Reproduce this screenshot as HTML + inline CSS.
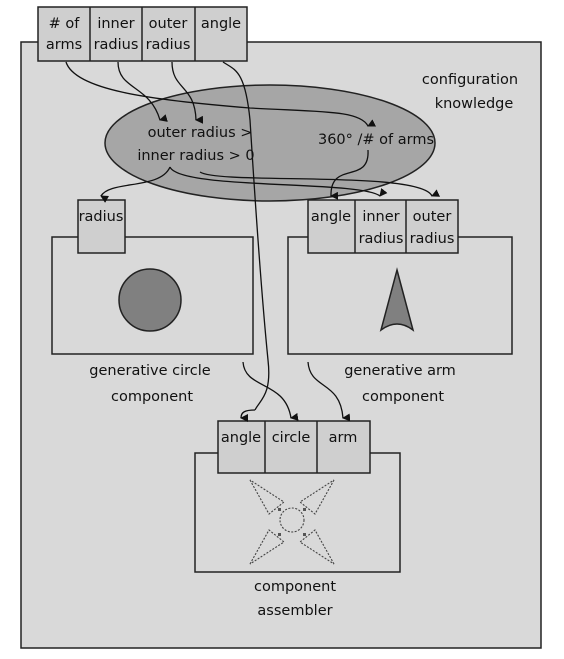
<!DOCTYPE html>
<html><head><meta charset="utf-8"><style>
body{margin:0;background:#fff;}
svg{display:block;font-family:"DejaVu Sans","Liberation Sans",sans-serif;font-size:14.5px;}
text{fill:#111;text-anchor:middle;}
</style></head><body>
<svg width="564" height="659" viewBox="0 0 564 659">
<defs><marker id="ah" markerWidth="8" markerHeight="8" refX="4" refY="7" orient="auto-start-reverse" markerUnits="userSpaceOnUse" viewBox="0 0 8 8"><path d="M0,0 L8,0 L4,8 Z" fill="#111"/></marker></defs>
<rect x="21" y="42" width="520" height="606" fill="#d9d9d9" stroke="#222" stroke-width="1.5"/>
<g>
<rect x="38" y="7" width="209" height="54" fill="#cfcfcf" stroke="#222" stroke-width="1.5"/>
<line x1="90" y1="7" x2="90" y2="61" stroke="#222" stroke-width="1.5"/>
<line x1="142" y1="7" x2="142" y2="61" stroke="#222" stroke-width="1.5"/>
<line x1="195" y1="7" x2="195" y2="61" stroke="#222" stroke-width="1.5"/>
<text x="64" y="28">#&#160;of</text><text x="64" y="49">arms</text>
<text x="116" y="28">inner</text><text x="116" y="49">radius</text>
<text x="168" y="28">outer</text><text x="168" y="49">radius</text>
<text x="221" y="28">angle</text>
</g>
<text x="470" y="84">configuration</text>
<text x="474" y="108">knowledge</text>
<ellipse cx="270" cy="143" rx="165" ry="58" fill="#a6a6a6" stroke="#222" stroke-width="1.5"/>
<text x="200" y="137">outer radius &gt;</text>
<text x="196" y="160">inner radius &gt; 0</text>
<text x="376" y="144">360° /# of arms</text>
<g>
<rect x="52" y="237" width="201" height="117" fill="#d9d9d9" stroke="#222" stroke-width="1.5"/>
<rect x="78" y="200" width="47" height="53" fill="#cfcfcf" stroke="#222" stroke-width="1.5"/>
<text x="101" y="221">radius</text>
<circle cx="150" cy="300" r="31" fill="#808080" stroke="#222" stroke-width="1.5"/>
<text x="150" y="375">generative circle</text><text x="152" y="401">component</text>
</g>
<g>
<rect x="288" y="237" width="224" height="117" fill="#d9d9d9" stroke="#222" stroke-width="1.5"/>
<rect x="308" y="200" width="150" height="53" fill="#cfcfcf" stroke="#222" stroke-width="1.5"/>
<line x1="355" y1="200" x2="355" y2="253" stroke="#222" stroke-width="1.5"/>
<line x1="406" y1="200" x2="406" y2="253" stroke="#222" stroke-width="1.5"/>
<text x="331" y="221">angle</text>
<text x="381" y="221">inner</text><text x="381" y="243">radius</text>
<text x="432" y="221">outer</text><text x="432" y="243">radius</text>
<path d="M397,270 L413,330 Q397,318 381,330 Z" fill="#808080" stroke="#222" stroke-width="1.5"/>
<text x="400" y="375">generative arm</text><text x="403" y="401">component</text>
</g>
<g>
<rect x="195" y="453" width="205" height="119" fill="#d9d9d9" stroke="#222" stroke-width="1.5"/>
<rect x="218" y="421" width="152" height="52" fill="#cfcfcf" stroke="#222" stroke-width="1.5"/>
<line x1="265" y1="421" x2="265" y2="473" stroke="#222" stroke-width="1.5"/>
<line x1="317" y1="421" x2="317" y2="473" stroke="#222" stroke-width="1.5"/>
<text x="241" y="442">angle</text><text x="291" y="442">circle</text><text x="343" y="442">arm</text>
<g fill="none" stroke="#444" stroke-width="1.1" stroke-dasharray="2,1.5">
<circle cx="292" cy="520" r="12"/>
<path d="M250,480 L269,514 L284,502 Z"/>
<path d="M334,480 L315,514 L300,502 Z"/>
<path d="M250,564 L269,530 L284,542 Z"/>
<path d="M334,564 L315,530 L300,542 Z"/>
</g>
<g fill="#555"><rect x="278" y="508" width="3" height="3"/><rect x="303" y="508" width="3" height="3"/><rect x="278" y="533" width="3" height="3"/><rect x="303" y="533" width="3" height="3"/></g>
<text x="295" y="591">component</text><text x="295" y="615">assembler</text>
</g>
<g fill="none" stroke="#111" stroke-width="1.3">
<path d="M66,62 C75,90 150,100 250,108 C320,112 360,110 368,126" marker-end="url(#ah)"/>
<path d="M118,62 C118,90 150,85 160,120" marker-end="url(#ah)"/>
<path d="M172,62 C172,90 195,85 196,120" marker-end="url(#ah)"/>
<path d="M223,62 C235,70 245,70 250,120 C255,200 262,300 268,360 C272,395 260,400 255,410" />
<path d="M255,410 C245,410 241,412 241,418" marker-end="url(#ah)"/>
<path d="M170,167 C160,190 110,180 101,196" marker-end="url(#ah)"/>
<path d="M170,167 C180,190 360,180 380,196" marker-end="url(#ah)"/>
<path d="M200,172 C220,185 420,170 432,196" marker-end="url(#ah)"/>
<path d="M368,150 C370,185 330,160 331,196" marker-end="url(#ah)"/>
<path d="M243,362 C245,390 285,380 291,418" marker-end="url(#ah)"/>
<path d="M308,362 C310,390 340,380 343,418" marker-end="url(#ah)"/>
</g>
</svg>
</body></html>
